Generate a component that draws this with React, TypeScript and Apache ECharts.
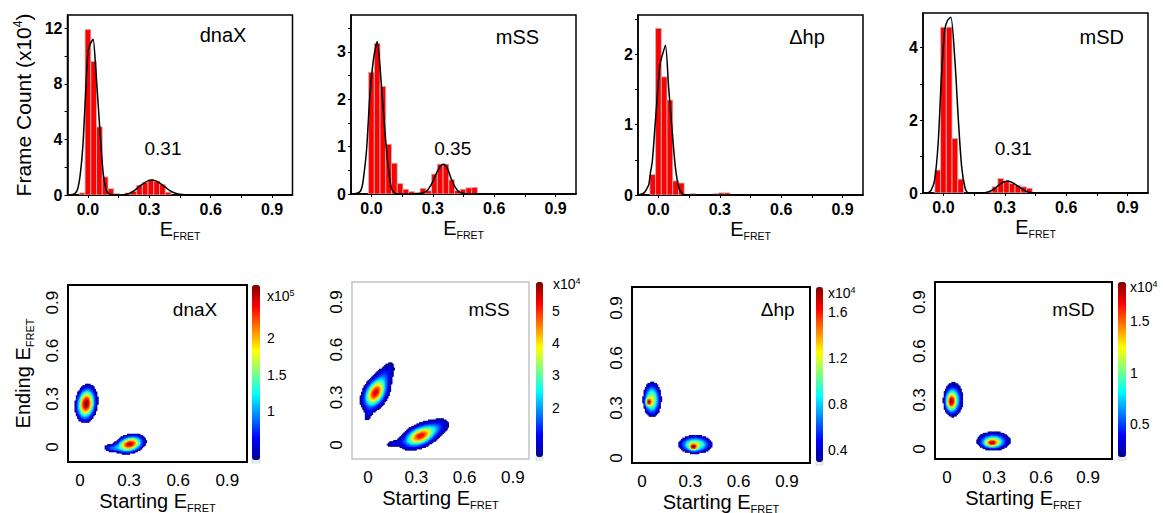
import React, { useEffect, useRef } from 'react';
import * as echarts from 'echarts';

const FONT = '"Liberation Sans", Arial, Helvetica, sans-serif';
const BIN = 0.028; // histogram bin width (E_FRET)
const STEP = 0.008; // density map cell size (E_FRET)

// ---------------- top row: histograms (frame count, x10^4) ----------------
const dnaXBinX = [-0.028, 0, 0.028, 0.056, 0.084, 0.112, 0.14, 0.168, 0.196, 0.224, 0.252, 0.28, 0.308, 0.336, 0.364, 0.392];
const dnaXBinY = [0.15, 11.9, 9.6, 4.9, 1.3, 0.45, 0.1, 0.04, 0.15, 0.25, 0.7, 0.9, 1.1, 1.0, 0.75, 0.2];
const mSSBinX = [0, 0.028, 0.056, 0.084, 0.112, 0.14, 0.168, 0.196, 0.224, 0.252, 0.28, 0.308, 0.336, 0.364, 0.392, 0.42, 0.448, 0.476, 0.504];
const mSSBinY = [2.57, 3.18, 2.27, 1.05, 0.65, 0.22, 0.1, 0.05, 0.03, 0.12, 0.07, 0.42, 0.63, 0.63, 0.3, 0.07, 0.1, 0.13, 0.14];
const dhpBinX = [-0.028, 0, 0.028, 0.056, 0.084, 0.112, 0.168, 0.28, 0.308, 0.336];
const dhpBinY = [0.29, 2.37, 1.68, 1.35, 0.2, 0.17, 0.02, 0.02, 0.03, 0.03];
const mSDBinX = [-0.028, 0, 0.028, 0.056, 0.084, 0.224, 0.252, 0.28, 0.308, 0.336, 0.364, 0.392, 0.42];
const mSDBinY = [0.63, 4.56, 4.56, 1.5, 0.38, 0.05, 0.17, 0.4, 0.33, 0.26, 0.21, 0.17, 0.13];

// Gaussian-fit curves
const dnaXFitX = [-0.1, -0.075, -0.0625, -0.05, -0.0375, -0.025, -0.0125, 0, 0.0125, 0.025, 0.0375, 0.05, 0.0625, 0.075, 0.0875, 0.1, 0.1125, 0.125, 0.15, 0.175, 0.2, 0.225, 0.25, 0.275, 0.3, 0.3125, 0.325, 0.35, 0.375, 0.4, 0.425, 0.45, 0.475, 0.5, 1.0];
const dnaXFitY = [0, 0.03, 0.12, 0.45, 1.5, 3.5, 7.0, 10.3, 10.9, 11.2, 9.2, 6.5, 3.8, 1.5, 0.45, 0.1, 0.03, 0.01, 0, 0.02, 0.1, 0.3, 0.6, 0.88, 1.05, 1.08, 1.05, 0.88, 0.6, 0.32, 0.14, 0.05, 0.01, 0, 0];
const mSSFitX = [-0.1, -0.075, -0.056, -0.048, -0.04, -0.024, -0.008, 0.01, 0.028, 0.048, 0.064, 0.08, 0.096, 0.11, 0.13, 0.2, 0.25, 0.27, 0.29, 0.304, 0.32, 0.335, 0.352, 0.37, 0.392, 0.41, 0.43, 0.45, 0.47, 1.0];
const mSSFitY = [0, 0.01, 0.05, 0.12, 0.3, 0.93, 2.06, 2.85, 3.22, 2.34, 1.42, 0.65, 0.15, 0.03, 0, 0, 0.02, 0.06, 0.18, 0.3, 0.46, 0.58, 0.63, 0.55, 0.3, 0.14, 0.04, 0.01, 0, 0];
const dhpFitX = [-0.1, -0.085, -0.07, -0.055, -0.047, -0.04, -0.03, -0.015, 0.007, 0.02, 0.034, 0.05, 0.067, 0.083, 0.1, 0.115, 0.13, 1.0];
const dhpFitY = [0, 0.01, 0.03, 0.1, 0.15, 0.3, 0.48, 1.05, 1.85, 2.0, 2.13, 1.52, 0.91, 0.39, 0.1, 0.02, 0, 0];
const mSDFitX = [-0.1, -0.075, -0.06, -0.043, -0.026, -0.01, 0.006, 0.02, 0.036, 0.056, 0.073, 0.089, 0.106, 0.12, 0.15, 0.2, 0.22, 0.25, 0.28, 0.312, 0.34, 0.37, 0.4, 0.42, 0.45, 1.0];
const mSDFitY = [0, 0.01, 0.08, 0.36, 1.36, 3.19, 4.47, 4.75, 4.83, 3.64, 2.0, 0.72, 0.13, 0.01, 0, 0.01, 0.03, 0.12, 0.26, 0.33, 0.28, 0.16, 0.06, 0.02, 0, 0];

const topXLabels = [0, 0.3, 0.6, 0.9];
const topXTicks = [0, 0.15, 0.3, 0.45, 0.6, 0.75, 0.9];
const dnaXYLabels = [0, 4, 8, 12];
const dnaXYTicks = [0, 2, 4, 6, 8, 10, 12];
const mSSYLabels = [0, 1, 2, 3];
const mSSYTicks = [0, 0.5, 1, 1.5, 2, 2.5, 3, 3.5];
const dhpYLabels = [0, 1, 2];
const dhpYTicks = [0, 0.5, 1, 1.5, 2, 2.5];
const mSDYLabels = [0, 2, 4];
const mSDYTicks = [0, 1, 2, 3, 4];

// ---------------- bottom row: transition density maps ----------------
// each blob: [centre x, centre y, sigma major, sigma minor, major-axis angle (deg), amplitude]
const dnaXBlobs = [
  [0.038, 0.272, 0.06, 0.034, 83, 2.72],
  [0.305, 0.02, 0.05, 0.03, 15, 2.6],
  [0.19, -0.005, 0.035, 0.016, 0, 0.7],
];
const mSSBlobs = [
  [0.045, 0.33, 0.06, 0.037, 62, 5.4],
  [0.11, 0.45, 0.06, 0.03, 60, 1.0],
  [0.0, 0.19, 0.035, 0.015, 75, 0.7],
  [0.325, 0.06, 0.065, 0.035, 25, 5.3],
  [0.44, 0.12, 0.05, 0.03, 20, 0.9],
  [0.16, 0.01, 0.04, 0.015, 10, 0.8],
];
const dhpBlobs = [
  [0.04, 0.338, 0.015, 0.012, 90, 0.85],
  [0.062, 0.352, 0.063, 0.034, 90, 1.2],
  [0.319, 0.068, 0.015, 0.012, 0, 0.85],
  [0.33, 0.083, 0.063, 0.033, 0, 1.2],
];
const mSDBlobs = [
  [0.022, 0.29, 0.035, 0.02, 90, 0.9],
  [0.04, 0.305, 0.054, 0.032, 90, 1.1],
  [0.285, 0.038, 0.03, 0.015, 0, 0.8],
  [0.296, 0.05, 0.056, 0.03, 0, 1.1],
];
const bottomLabels = [0, 0.3, 0.6, 0.9];
const dnaXBarTicks = [1, 1.5, 2];
const mSSBarTicks = [2, 3, 4, 5];
const dhpBarTicks = [0.4, 0.8, 1.2, 1.6];
const mSDBarTicks = [0.5, 1, 1.5];

const JET = ['#00008F', '#0000FF', '#0080FF', '#00FFFF', '#80FF80', '#FFFF00', '#FF8000', '#FF0000', '#800000'];

function densityCells(blobs: number[][], xr: number[], yr: number[], vmin: number, vmax: number) {
  const out: number[][] = [];
  const nx = Math.floor((xr[1] - xr[0]) / STEP);
  const ny = Math.floor((yr[1] - yr[0]) / STEP);
  for (let i = 0; i < nx; i++) {
    const x = xr[0] + (i + 0.5) * STEP;
    for (let j = 0; j < ny; j++) {
      const y = yr[0] + (j + 0.5) * STEP;
      let v = 0;
      for (const b of blobs) {
        const a = (b[4] * Math.PI) / 180;
        const dx = x - b[0];
        const dy = y - b[1];
        const u = dx * Math.cos(a) + dy * Math.sin(a);
        const w = -dx * Math.sin(a) + dy * Math.cos(a);
        v += b[5] * Math.exp(-0.5 * ((u / b[2]) ** 2 + (w / b[3]) ** 2));
      }
      if (v >= vmin) out.push([x, y, Math.min(v, vmax)]);
    }
  }
  return out;
}

const TOP = [
  { name: 'dnaX', binX: dnaXBinX, binY: dnaXBinY, fitX: dnaXFitX, fitY: dnaXFitY, yl: dnaXYLabels, yt: dnaXYTicks, yMax: 12.95, peak: '0.31', box: [67.5, 15, 225, 180], namePos: [223, 35], peakPos: [163, 148] },
  { name: 'mSS', binX: mSSBinX, binY: mSSBinY, fitX: mSSFitX, fitY: mSSFitY, yl: mSSYLabels, yt: mSSYTicks, yMax: 3.78, peak: '0.35', box: [351, 15, 225, 179], namePos: [517.5, 36.5], peakPos: [452.7, 148.3] },
  { name: 'Δhp', binX: dhpBinX, binY: dhpBinY, fitX: dhpFitX, fitY: dhpFitY, yl: dhpYLabels, yt: dhpYTicks, yMax: 2.56, peak: '', box: [638, 15, 225, 180], namePos: [807, 37], peakPos: [0, 0] },
  { name: 'mSD', binX: mSDBinX, binY: mSDBinY, fitX: mSDFitX, fitY: mSDFitY, yl: mSDYLabels, yt: mSDYTicks, yMax: 4.95, peak: '0.31', box: [923, 13, 225, 180], namePos: [1101.7, 36.5], peakPos: [1013.3, 148.3] },
];

const BOTTOM = [
  { name: 'dnaX', blobs: dnaXBlobs, box: [68, 285, 179, 177], xr: [-0.073, 1.02], yr: [-0.094, 1.01], border: '#000', bw: 2, cb: [252, 285, 8, 175], vr: [0.34, 2.72], ticks: dnaXBarTicks, gap: 7, exp: '5', expPos: [267, 296], namePos: [195, 309.3] },
  { name: 'mSS', blobs: mSSBlobs, box: [352, 282, 177, 177], xr: [-0.1, 1.0], yr: [-0.088, 1.026], border: '#c4c4c4', bw: 1.5, cb: [536, 282, 7, 175], vr: [0.47, 5.9], ticks: mSSBarTicks, gap: 9, exp: '4', expPos: [553, 284], namePos: [489, 309.3] },
  { name: 'Δhp', blobs: dhpBlobs, box: [632, 287, 178, 176], xr: [-0.062, 1.043], yr: [-0.03, 1.026], border: '#000', bw: 2, cb: [816, 287, 7, 175], vr: [0.3, 1.82], ticks: dhpBarTicks, gap: 5, exp: '4', expPos: [828, 293], namePos: [777.7, 309.3] },
  { name: 'mSD', blobs: mSDBlobs, box: [935, 282, 177, 177], xr: [-0.077, 1.053], yr: [-0.061, 1.023], border: '#000', bw: 2, cb: [1118, 282, 8, 175], vr: [0.18, 1.88], ticks: mSDBarTicks, gap: 4, exp: '4', expPos: [1130, 287], namePos: [1073.3, 309.3] },
];

function fmtBottom(v: number) {
  return v === 0 ? '0' : String(v);
}

function buildOption() {
  const grid: any[] = [];
  const xAxis: any[] = [];
  const yAxis: any[] = [];
  const cbGrid: any[] = [];
  const cbX: any[] = [];
  const cbY: any[] = [];
  const series: any[] = [];
  const visualMap: any[] = [];
  const graphic: any[] = [];

  TOP.forEach((p, i) => {
    grid.push({ left: p.box[0], top: p.box[1], width: p.box[2], height: p.box[3], show: true, borderColor: '#000', borderWidth: 1.5, outerBoundsMode: 'none', containLabel: false });
    xAxis.push({
      gridIndex: i, type: 'value', min: -0.1, max: 1.0,
      axisLine: { show: true, onZero: false, lineStyle: { color: '#000', width: 1.5 } },
      axisTick: { show: true, customValues: topXTicks, length: 3, lineStyle: { color: '#000', width: 1 } },
      axisLabel: { customValues: topXLabels, formatter: (v: number) => v.toFixed(1), color: '#000', fontWeight: 'bold', fontSize: 16, fontFamily: FONT, margin: 6 },
      splitLine: { show: false },
      name: '{e|E}{s|FRET}', nameLocation: 'middle', nameGap: 22,
      nameTextStyle: { rich: { e: { fontSize: 20, fontFamily: FONT, color: '#000', lineHeight: 24 }, s: { fontSize: 10.5, fontFamily: FONT, color: '#000', lineHeight: 11, verticalAlign: 'bottom' } } },
    });
    const ya: any = {
      gridIndex: i, type: 'value', min: 0, max: p.yMax,
      axisLine: { show: true, onZero: false, lineStyle: { color: '#000', width: 1.5 } },
      axisTick: { show: true, customValues: p.yt, length: 3, lineStyle: { color: '#000', width: 1 } },
      axisLabel: { customValues: p.yl, color: '#000', fontWeight: 'bold', fontSize: 16, fontFamily: FONT, margin: 5 },
      splitLine: { show: false },
    };
    if (i === 0) {
      ya.name = '{a|Frame Count (x10}{b|4}{a|)}';
      ya.nameLocation = 'middle';
      ya.nameGap = 32;
      ya.nameTextStyle = { rich: { a: { fontSize: 21, fontFamily: FONT, color: '#000', lineHeight: 24 }, b: { fontSize: 12, fontFamily: FONT, color: '#000', lineHeight: 12, verticalAlign: 'top' } } };
    }
    yAxis.push(ya);
    series.push({
      type: 'custom', xAxisIndex: i, yAxisIndex: i, silent: true, clip: true, z: 2,
      data: p.binX.map((x, j) => [x, p.binY[j]]),
      renderItem: (_params: any, api: any) => {
        const x = api.value(0) as number;
        const y = api.value(1) as number;
        const a = api.coord([x - BIN / 2, y]);
        const b = api.coord([x + BIN / 2, 0]);
        return { type: 'rect', shape: { x: a[0], y: a[1], width: b[0] - a[0], height: b[1] - a[1] }, style: { fill: '#ff0000', stroke: '#bdbdbd', lineWidth: 0.8 } };
      },
    });
    series.push({
      type: 'line', xAxisIndex: i, yAxisIndex: i, silent: true, z: 3,
      data: p.fitX.map((x, j) => [x, p.fitY[j]]),
      symbol: 'none', showSymbol: false, smooth: 0.25,
      lineStyle: { color: '#000', width: 1.5 },
    });
    graphic.push({ type: 'text', x: p.namePos[0], y: p.namePos[1], style: { text: p.name, fontSize: 20, fontFamily: FONT, fill: '#000', align: 'center', verticalAlign: 'middle' } });
    if (p.peak) {
      graphic.push({ type: 'text', x: p.peakPos[0], y: p.peakPos[1], style: { text: p.peak, fontSize: 19, fontFamily: FONT, fill: '#000', align: 'center', verticalAlign: 'middle' } });
    }
  });

  BOTTOM.forEach((p, k) => {
    const gi = 4 + k;
    grid.push({ left: p.box[0], top: p.box[1], width: p.box[2], height: p.box[3], show: true, borderColor: p.border, borderWidth: p.bw, outerBoundsMode: 'none', containLabel: false });
    xAxis.push({
      gridIndex: gi, type: 'value', min: p.xr[0], max: p.xr[1],
      axisLine: { show: false, onZero: false }, axisTick: { show: false }, splitLine: { show: false },
      axisLabel: { customValues: bottomLabels, formatter: fmtBottom, color: '#000', fontSize: 17, fontFamily: FONT, margin: 10 },
      name: '{e|Starting E}{s|FRET}', nameLocation: 'middle', nameGap: 27,
      nameTextStyle: { rich: { e: { fontSize: 20, fontFamily: FONT, color: '#000', lineHeight: 24 }, s: { fontSize: 11, fontFamily: FONT, color: '#000', lineHeight: 11, verticalAlign: 'bottom' } } },
    });
    const ya: any = {
      gridIndex: gi, type: 'value', min: p.yr[0], max: p.yr[1],
      axisLine: { show: false, onZero: false }, axisTick: { show: false }, splitLine: { show: false },
      axisLabel: { customValues: bottomLabels, formatter: fmtBottom, color: '#000', fontSize: 17, fontFamily: FONT, margin: 7, rotate: 90 },
    };
    if (k === 0) {
      ya.name = '{e|Ending E}{s|FRET}';
      ya.nameLocation = 'middle';
      ya.nameGap = 33;
      ya.nameTextStyle = { rich: { e: { fontSize: 20, fontFamily: FONT, color: '#000', lineHeight: 24 }, s: { fontSize: 11, fontFamily: FONT, color: '#000', lineHeight: 11, verticalAlign: 'bottom' } } };
    }
    yAxis.push(ya);
    const sIdx = series.length;
    series.push({
      type: 'custom', xAxisIndex: gi, yAxisIndex: gi, silent: true, clip: true, z: 2,
      dimensions: ['x', 'y', 'v'], encode: { x: 0, y: 1 },
      data: densityCells(p.blobs, p.xr, p.yr, p.vr[0], p.vr[1]),
      renderItem: (_params: any, api: any) => {
        const x = api.value(0) as number;
        const y = api.value(1) as number;
        const a = api.coord([x - STEP / 2, y + STEP / 2]);
        const b = api.coord([x + STEP / 2, y - STEP / 2]);
        return { type: 'rect', shape: { x: a[0], y: a[1], width: b[0] - a[0] + 0.5, height: b[1] - a[1] + 0.5 }, style: { fill: api.visual('color') } };
      },
    });
    visualMap.push({
      type: 'continuous', seriesIndex: sIdx, dimension: 2, min: p.vr[0], max: p.vr[1],
      inRange: { color: JET }, calculable: false, show: true, orient: 'vertical',
      left: p.cb[0], top: p.cb[1], itemWidth: p.cb[2], itemHeight: p.cb[3], padding: 0, hoverLink: false,
    });
    // colour-bar tick labels
    const ci = 8 + k;
    cbGrid.push({ left: p.cb[0], top: p.cb[1], width: p.cb[2], height: p.cb[3], show: false, outerBoundsMode: 'none', containLabel: false });
    cbX.push({ gridIndex: ci, type: 'value', show: false, min: 0, max: 1 });
    cbY.push({
      gridIndex: ci, type: 'value', min: p.vr[0], max: p.vr[1], position: 'right',
      axisLine: { show: false, onZero: false }, axisTick: { show: false }, splitLine: { show: false },
      axisLabel: { customValues: p.ticks, color: '#000', fontSize: 14, fontFamily: FONT, margin: p.gap },
    });
    graphic.push({ type: 'rect', shape: { x: p.cb[0], y: p.cb[1] + p.cb[3], width: p.cb[2], height: 3 }, style: { fill: '#f2f2f2', stroke: '#c8c8c8', lineWidth: 0.6 } });
    graphic.push({ type: 'text', x: p.expPos[0], y: p.expPos[1], style: { text: '{a|x10}{b|' + p.exp + '}', fill: '#000', verticalAlign: 'middle', rich: { a: { fontSize: 14, fontFamily: FONT, fill: '#000', lineHeight: 16 }, b: { fontSize: 9, fontFamily: FONT, fill: '#000', lineHeight: 9, verticalAlign: 'top' } } } });
    graphic.push({ type: 'text', x: p.namePos[0], y: p.namePos[1], style: { text: p.name, fontSize: 19, fontFamily: FONT, fill: '#000', align: 'center', verticalAlign: 'middle' } });
  });

  return {
    animation: false, backgroundColor: '#fff', textStyle: { fontFamily: FONT },
    grid: grid.concat(cbGrid), xAxis: xAxis.concat(cbX), yAxis: yAxis.concat(cbY),
    series, visualMap, graphic,
  };
}

export default function App() {
  const ref = useRef<HTMLDivElement>(null);
  useEffect(() => {
    const chart = echarts.init(ref.current!, null, { renderer: 'svg' });
    chart.setOption(buildOption() as any);
    return () => chart.dispose();
  }, []);
  return <div ref={ref} style={{ position: 'fixed', left: 0, top: 0, width: 1163, height: 513, background: '#fff' }} />;
}
